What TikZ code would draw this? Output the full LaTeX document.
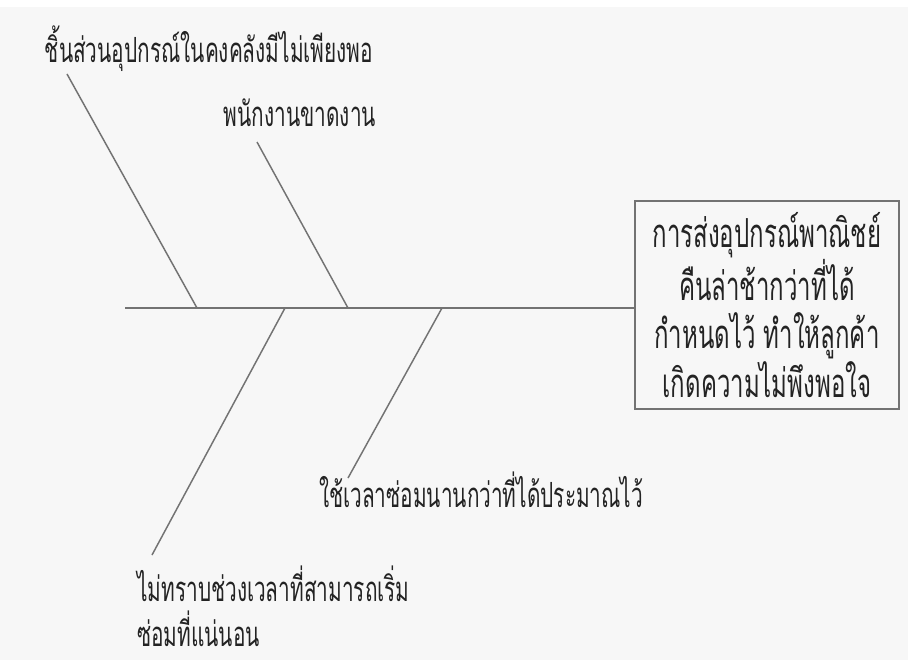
\documentclass[tikz,border=0pt]{standalone}
\usepackage{fontspec}
\newfontfamily\thaifont[Script=Thai,FakeStretch=0.6]{Loma}
\definecolor{bg}{RGB}{247,247,247}
\definecolor{ln}{RGB}{115,115,115}
\definecolor{tx}{RGB}{35,35,35}
\begin{document}
\begin{tikzpicture}[x=0.75pt,y=-0.75pt,
  bone/.style={draw=ln,line width=1.1pt},
  lbl/.style={inner sep=0pt,text=tx,font=\thaifont\fontsize{26}{33.75}\selectfont},
  effect/.style={draw=ln,line width=1.1pt,minimum width=198pt,minimum height=156pt,
    inner sep=0pt,align=center,text=tx,font=\thaifont\fontsize{30}{36.2}\selectfont}]
\fill[bg] (0,0) rectangle (908,660);
\fill[white] (0,0) rectangle (908,7);
\useasboundingbox (0,0) rectangle (908,660);

% effect box
\node[effect] (box) at (767,305) {การส่งอุปกรณ์พาณิชย์\\คืนล่าช้ากว่าที่ได้\\กำหนดไว้ ทำให้ลูกค้า\\เกิดความไม่พึงพอใจ};

% spine
\coordinate (tail) at (125,308);
\draw[bone] (tail) -- (tail -| box.west);

% bone junctions on spine
\coordinate (j1) at (197,308);
\coordinate (j2) at (348,308);
\coordinate (j3) at (285,308);
\coordinate (j4) at (442,308);
% free ends
\coordinate (e1) at (67,74);
\coordinate (e2) at (257,142);
\coordinate (e3) at (152,555);
\coordinate (e4) at (348,478);

\draw[bone] (e1) -- (j1);
\draw[bone] (e2) -- (j2);
\draw[bone] (j3) -- (e3);
\draw[bone] (j4) -- (e4);

% labels
\node[lbl,anchor=base] (t1) at (209,63) {ชิ้นส่วนอุปกรณ์ในคงคลังมีไม่เพียงพอ};
\node[lbl,anchor=base] (t2) at (300,127) {พนักงานขาดงาน};
\node[lbl,anchor=base] (t4) at (481,507) {ใช้เวลาซ่อมนานกว่าที่ได้ประมาณไว้};
\node[lbl,anchor=west,align=left] (t5) at (137,606) {ไม่ทราบช่วงเวลาที่สามารถเริ่ม\\ซ่อมที่แน่นอน};
\end{tikzpicture}
\end{document}
